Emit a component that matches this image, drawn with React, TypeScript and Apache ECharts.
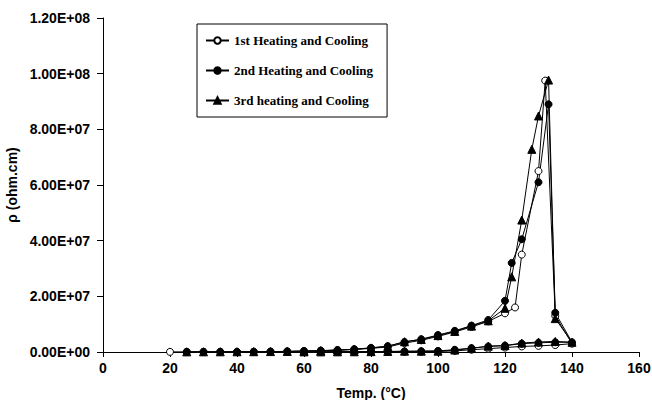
import React, { useEffect, useRef } from "react";
import * as echarts from "echarts";

// Temperatures (°C) and resistivity values (ohm.cm), heating branch then cooling branch
const s1Temps = [20, 25, 30, 35, 40, 45, 50, 55, 60, 65, 70, 75, 80, 85, 90, 95, 100, 105, 110, 115, 120, 123, 125, 130, 132, 135, 140,
  135, 130, 125, 120, 115, 110, 105, 100, 95, 90, 85, 80, 75, 70, 65, 60];
const s1Values = [0.05e6, 0.05e6, 0.05e6, 0.06e6, 0.07e6, 0.1e6, 0.15e6, 0.2e6, 0.3e6, 0.45e6, 0.65e6, 0.9e6, 1.3e6, 1.8e6, 3.2e6, 4.2e6, 5.6e6, 7.2e6, 9.0e6, 11.0e6, 13.9e6, 16.0e6, 35.0e6, 65.0e6, 97.5e6, 13.0e6, 3.0e6,
  2.5e6, 2.2e6, 2.0e6, 1.6e6, 1.2e6, 0.8e6, 0.4e6, 0.2e6, 0.1e6, 0.08e6, 0.06e6, 0.05e6, 0.05e6, 0.05e6, 0.05e6, 0.05e6];

const s2Temps = [25, 30, 35, 40, 45, 50, 55, 60, 65, 70, 75, 80, 85, 90, 95, 100, 105, 110, 115, 120, 122, 125, 130, 133, 135, 140,
  135, 130, 125, 120, 115, 110, 105, 100, 95, 90, 85, 80, 75, 70, 65, 60];
const s2Values = [0.05e6, 0.06e6, 0.07e6, 0.08e6, 0.1e6, 0.15e6, 0.22e6, 0.35e6, 0.5e6, 0.7e6, 1.0e6, 1.5e6, 2.1e6, 3.6e6, 4.6e6, 6.1e6, 7.6e6, 9.5e6, 11.5e6, 18.4e6, 32.0e6, 40.5e6, 61.0e6, 89.0e6, 14.1e6, 3.5e6,
  3.5e6, 3.3e6, 3.0e6, 2.3e6, 2.0e6, 1.4e6, 0.8e6, 0.4e6, 0.3e6, 0.2e6, 0.15e6, 0.1e6, 0.08e6, 0.06e6, 0.05e6, 0.05e6];

const s3Temps = [25, 30, 35, 40, 45, 50, 55, 60, 65, 70, 75, 80, 85, 90, 95, 100, 105, 110, 115, 120, 122, 125, 128, 130, 133, 135, 140,
  135, 130, 125, 120, 115, 110, 105, 100, 95, 90, 85, 80, 75, 70, 65, 60];
const s3Values = [0.05e6, 0.06e6, 0.07e6, 0.08e6, 0.1e6, 0.15e6, 0.2e6, 0.33e6, 0.48e6, 0.68e6, 0.95e6, 1.45e6, 2.0e6, 3.7e6, 4.5e6, 5.9e6, 7.4e6, 9.3e6, 11.2e6, 15.7e6, 27.0e6, 47.4e6, 72.8e6, 84.8e6, 97.7e6, 12.0e6, 3.5e6,
  3.8e6, 3.6e6, 3.2e6, 2.3e6, 2.1e6, 1.3e6, 0.7e6, 0.3e6, 0.3e6, 0.3e6, 0.2e6, 0.12e6, 0.08e6, 0.06e6, 0.05e6, 0.05e6];

const seriesNames = ["1st Heating and Cooling", "2nd Heating and Cooling", "3rd heating and Cooling"];
const xTicks = { min: 0, max: 160, interval: 20 };
const yTicks = { min: 0, max: 1.2e8, interval: 2e7 };

function pairs(t: number[], v: number[]) {
  return t.map((x, i) => [x, v[i]]);
}

function sci(v: number): string {
  if (v === 0) return "0.00E+00";
  const e = Math.floor(Math.log10(v) + 1e-9);
  const m = v / Math.pow(10, e);
  return m.toFixed(2) + "E+" + String(e).padStart(2, "0");
}

export default function App() {
  const ref = useRef<HTMLDivElement>(null);
  useEffect(() => {
    if (!ref.current) return;
    const chart = echarts.init(ref.current, null, { renderer: "svg" });
    const axisFont = { fontFamily: "Liberation Sans", fontWeight: "bold" as const, fontSize: 14, color: "#000" };
    const baseSeries = {
      type: "line" as const,
      symbolSize: 7,
      lineStyle: { color: "#000", width: 1 },
      emphasis: { disabled: true },
    };
    chart.setOption({
      animation: false,
      backgroundColor: "#fff",
      grid: { left: 103, right: 13, top: 18, bottom: 48, containLabel: false, outerBoundsMode: "none" },
      legend: {
        orient: "vertical",
        left: 197,
        top: 24,
        padding: [10, 14, 10, 8],
        itemWidth: 23,
        itemHeight: 8,
        itemGap: 17,
        borderColor: "#000",
        borderWidth: 1,
        backgroundColor: "#fff",
        textStyle: { fontFamily: "Liberation Serif", fontWeight: "bold", fontSize: 13, color: "#000" },
        data: seriesNames,
      },
      xAxis: {
        type: "value",
        min: xTicks.min,
        max: xTicks.max,
        interval: xTicks.interval,
        name: "Temp. (°C)",
        nameLocation: "middle",
        nameGap: 34,
        nameTextStyle: axisFont,
        axisLine: { lineStyle: { color: "#000", width: 1 } },
        axisTick: { show: true, inside: false, length: 5, lineStyle: { color: "#000" } },
        axisLabel: { ...axisFont, margin: 9 },
        splitLine: { show: false },
      },
      yAxis: {
        type: "value",
        min: yTicks.min,
        max: yTicks.max,
        interval: yTicks.interval,
        name: "ρ (ohm.cm)",
        nameLocation: "middle",
        nameGap: 80,
        nameTextStyle: axisFont,
        axisLine: { show: true, lineStyle: { color: "#000", width: 1 } },
        axisTick: { show: true, inside: false, length: 6, lineStyle: { color: "#000" } },
        axisLabel: { ...axisFont, margin: 13, formatter: (v: number) => sci(v) },
        splitLine: { show: false },
      },
      series: [
        {
          ...baseSeries,
          name: seriesNames[0],
          symbol: "circle",
          itemStyle: { color: "#fff", borderColor: "#000", borderWidth: 1 },
          data: pairs(s1Temps, s1Values),
        },
        {
          ...baseSeries,
          name: seriesNames[1],
          symbol: "circle",
          itemStyle: { color: "#000", borderColor: "#000", borderWidth: 1 },
          data: pairs(s2Temps, s2Values),
        },
        {
          ...baseSeries,
          name: seriesNames[2],
          symbol: "triangle",
          symbolSize: 8,
          itemStyle: { color: "#000", borderColor: "#000", borderWidth: 1 },
          data: pairs(s3Temps, s3Values),
        },
      ],
    });
    return () => chart.dispose();
  }, []);
  return <div ref={ref} style={{ position: "fixed", left: 0, top: 0, width: 652, height: 400 }} />;
}
